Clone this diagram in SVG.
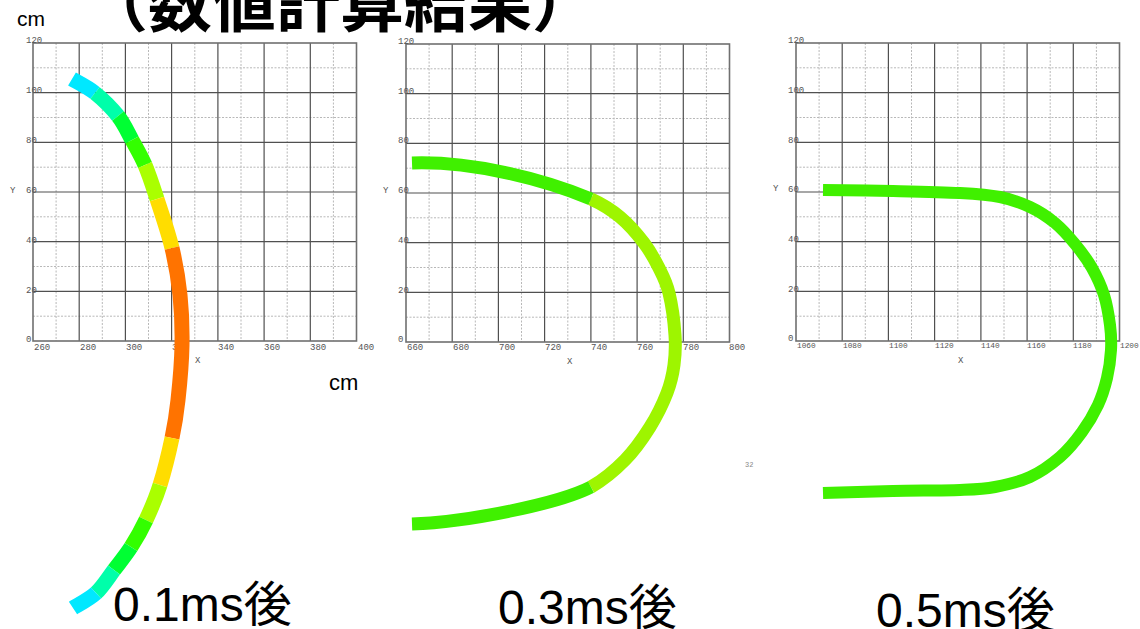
<svg xmlns="http://www.w3.org/2000/svg" xmlns:xlink="http://www.w3.org/1999/xlink" width="1140" height="629" viewBox="0 0 1140 629">
<style>
.minor{fill:none;stroke:#b8b8b8;stroke-width:1;stroke-dasharray:2 1.5}
.major{fill:none;stroke:#505050;stroke-width:1.2}
.frame{fill:none;stroke:#707070;stroke-width:1.6}
.tick{font-family:"Liberation Mono","DejaVu Sans Mono",monospace;font-size:9px;fill:#555}
.tick4{font-family:"Liberation Mono","DejaVu Sans Mono",monospace;font-size:7.8px;fill:#555}
.lbl{font-family:"Liberation Sans","Noto Sans CJK JP",sans-serif;fill:#000}
.c{fill:none;stroke-linecap:butt;stroke-linejoin:round}
</style>
<defs>
<g id="grid">
<path class="minor" d="M23.1,0V298M69.3,0V298M115.5,0V298M161.8,0V298M208,0V298M254.2,0V298M300.4,0V298M0,24.8H323.5M0,74.5H323.5M0,124.2H323.5M0,173.8H323.5M0,223.5H323.5M0,273.2H323.5"/>
<path class="major" d="M46.2,0V298M92.4,0V298M138.6,0V298M184.9,0V298M231.1,0V298M277.3,0V298M0,49.7H323.5M0,99.3H323.5M0,149H323.5M0,198.7H323.5M0,248.3H323.5"/>
<rect class="frame" x="0" y="0" width="323.5" height="298"/>
</g>
</defs>
<rect width="1140" height="629" fill="#fff"/>

<g id="title">
<text x="84" y="26" font-family="'Noto Sans CJK JP',sans-serif" font-size="64" font-weight="bold" fill="#000">（数値計算結果）</text>
<text class="lbl" x="17" y="26" font-size="21">cm</text>
<text class="lbl" x="329" y="390" font-size="22">cm</text>
<text x="745" y="467" font-family="'Liberation Mono',monospace" font-size="7" fill="#888">32</text>
</g>

<g id="plot1">
<use xlink:href="#grid" x="33" y="43"/>
<g class="tick">
<text x="26" y="43">120</text><text x="26" y="93">100</text><text x="26" y="143">80</text><text x="26" y="193">60</text><text x="26" y="243">40</text><text x="26" y="293">20</text><text x="26" y="342">0</text>
<text x="10" y="193">Y</text>
<text x="34" y="350">260</text><text x="80" y="350">280</text><text x="126" y="350">300</text><text x="172" y="350">320</text><text x="218" y="350">340</text><text x="264" y="350">360</text><text x="310" y="350">380</text><text x="358" y="350">400</text>
<text x="195" y="363">X</text>
</g>
</g>

<g id="plot2">
<use xlink:href="#grid" x="406" y="44"/>
<g class="tick">
<text x="398" y="44">120</text><text x="398" y="94">100</text><text x="398" y="143">80</text><text x="398" y="193">60</text><text x="398" y="243">40</text><text x="398" y="293">20</text><text x="398" y="342">0</text>
<text x="383" y="193">Y</text>
<text x="407" y="350">660</text><text x="453" y="350">680</text><text x="499" y="350">700</text><text x="545" y="350">720</text><text x="591" y="350">740</text><text x="637" y="350">760</text><text x="683" y="350">780</text><text x="729" y="350">800</text>
<text x="567" y="364">X</text>
</g>
</g>

<g id="plot3">
<use xlink:href="#grid" x="796" y="43"/>
<g class="tick">
<text x="788" y="43">120</text><text x="788" y="93">100</text><text x="788" y="143">80</text><text x="788" y="192">60</text><text x="788" y="242">40</text><text x="788" y="292">20</text><text x="788" y="341">0</text>
<text x="773" y="191">Y</text>
<text x="958" y="363">X</text>
</g>
<g class="tick4">
<text x="797" y="348">1060</text><text x="843" y="348">1080</text><text x="889" y="348">1100</text><text x="935" y="348">1120</text><text x="981" y="348">1140</text><text x="1027" y="348">1160</text><text x="1073" y="348">1180</text><text x="1120" y="348">1200</text>
</g>
</g>

<g id="curves">
<g id="curve1" class="c" stroke-width="15">
<path stroke="#00e8ff" d="M72,79 C75.8,81.3 87.3,86.8 95,93"/>
<path stroke="#00ffaa" d="M95,93 C102.7,99.2 111.8,108.2 118,116"/>
<path stroke="#00ff33" d="M118,116 C124.2,123.8 127.5,131.8 132,140"/>
<path stroke="#33ff00" d="M132,140 C136.5,148.2 140.8,155.2 145,165"/>
<path stroke="#aaff00" d="M145,165 C149.2,174.8 152.5,185.2 157,199"/>
<path stroke="#ffdd00" d="M157,199 C161.5,212.8 168.2,232 172,248"/>
<path stroke="#ff7300" d="M172,248 C175.8,264 178.3,278.8 180,295 C181.7,311.2 182.3,327.5 182,345 C181.7,362.5 179.7,384.5 178,400 C176.3,415.5 175,423.8 172,438"/>
<path stroke="#ffdd00" d="M172,438 C169,452.2 164.3,471.3 160,485"/>
<path stroke="#aaff00" d="M160,485 C155.7,498.7 150.8,509.7 146,520"/>
<path stroke="#33ff00" d="M146,520 C141.2,530.3 136.3,538.7 131,547"/>
<path stroke="#00ff33" d="M131,547 C125.7,555.3 119.8,562.3 114,570"/>
<path stroke="#00ffaa" d="M114,570 C108.2,577.7 102.8,586.7 96,593"/>
<path stroke="#00e8ff" d="M96,593 C89.2,599.3 76.8,605.5 73,608"/>
</g>
<g id="curve2" class="c" stroke-width="13">
<path stroke="#40f000" d="M412,163 C470,161 540,178 591,199"/>
<path stroke="#9ef500" d="M591,199 C603.8,204.8 611.2,209.7 620,217 C628.8,224.3 637.5,234.5 644,243 C650.5,251.5 654.8,259.7 659,268 C663.2,276.3 666.3,281.8 669,293 C671.7,304.2 674.2,323 675,335 C675.8,347 675.3,355.3 674,365 C672.7,374.7 671,382.7 667,393 C663,403.3 657,415.8 650,427 C643,438.2 634.8,450 625,460 C615.2,470 602.7,480.3 591,487"/>
<path stroke="#40f000" d="M591,487 C560,503 470,522 412,524"/>
</g>
<g id="curve3" class="c" stroke-width="12">
<path stroke="#40f000" d="M823,190 C834.7,190.2 870.2,190.5 893,191 C915.8,191.5 942.2,192 960,193 C977.8,194 988.3,194.7 1000,197 C1011.7,199.3 1020.8,202.7 1030,207 C1039.2,211.3 1047.5,216.8 1055,223 C1062.5,229.2 1068.8,236.5 1075,244 C1081.2,251.5 1087.2,259.5 1092,268 C1096.8,276.5 1101,285.5 1104,295 C1107,304.5 1108.8,315.8 1110,325 C1111.2,334.2 1111.5,341.2 1111,350 C1110.5,358.8 1109.2,368.8 1107,378 C1104.8,387.2 1102.2,396 1098,405 C1093.8,414 1088.3,423.3 1082,432 C1075.7,440.7 1068.7,449.5 1060,457 C1051.3,464.5 1040.8,472 1030,477 C1019.2,482 1006.7,484.8 995,487 C983.3,489.2 977,489.3 960,490 C943,490.7 915.8,490.5 893,491 C870.2,491.5 834.7,492.7 823,493"/>
</g>
</g>

<g id="labels">
<text class="lbl" x="113" y="621" font-size="48">0.1ms後</text>
<text class="lbl" x="498" y="624" font-size="48">0.3ms後</text>
<text class="lbl" x="876" y="627" font-size="48">0.5ms後</text>
</g>
</svg>
